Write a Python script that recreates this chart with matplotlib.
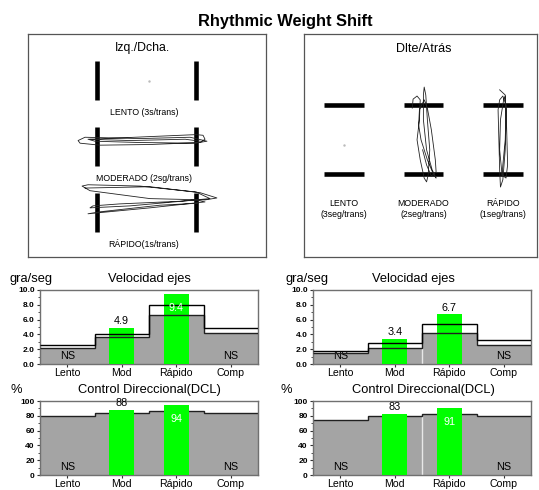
import numpy as np
import matplotlib
matplotlib.use("Agg")
import matplotlib.pyplot as plt

plt.rcParams['font.family'] = ['Liberation Sans', 'DejaVu Sans']

W, H = 539, 490

# ---------------------------
# data
# ---------------------------
categories = ["Lento", "Mod", "Rápido", "Comp"]

vel_left_norm = [2.2, 3.7, 6.6, 4.2]
vel_left_upper = [2.6, 4.0, 8.0, 4.9]
vel_left_patient = [None, 4.9, 9.4, None]

vel_right_norm = [1.5, 2.1, 4.2, 2.6]
vel_right_upper = [1.8, 2.8, 5.4, 3.3]
vel_right_patient = [None, 3.4, 6.7, None]

dcl_left_norm = [80, 84, 86, 84]
dcl_left_patient = [None, 88, 94, None]

dcl_right_norm = [75, 80, 83, 80]
dcl_right_patient = [None, 83, 91, None]

# left/right traces (x: sway between targets at -1/+1, y: offset from row)
lr_rows = ["LENTO (3s/trans)", "MODERADO (2sg/trans)", "RÁPIDO(1s/trans)"]
lr_mod_x = [-1.14, 0.07, 1.0, 1.14, 1.18, 1.08, 0.07, -0.94, -1.34, -1.38, -1.24,
            -0.13, 0.88, 1.22, 0.98, -0.13, -1.04, -1.18, -0.33, 0.78, 1.08]
lr_mod_y = [-0.11, -0.15, -0.18, -0.17, -0.11, -0.06, -0.03, -0.02, -0.05, -0.09, -0.14,
            -0.12, -0.14, -0.08, -0.05, -0.06, -0.08, -0.11, -0.09, -0.11, -0.08]
lr_fast_x = [-1.24, 0.07, 1.08, 1.42, 1.18, 0.07, -1.14, -1.30, -1.18, -0.13, 1.0, 1.28,
             0.68, -0.54, -1.08, -1.14, -0.33, 1.0, 1.18, 0.07, -1.18, -0.94, 0.27, 1.04]
lr_fast_y = [-0.37, -0.39, -0.30, -0.22, -0.19, -0.21, -0.33, -0.40, -0.42, -0.40, -0.31, -0.21,
             -0.17, -0.13, -0.10, -0.07, -0.10, -0.19, -0.16, -0.07, 0.02, -0.01, -0.11, -0.14]

# forward/back traces (x: offset from column, y: between targets at +1/-1)
fb_cols = ["LENTO", "MODERADO", "RÁPIDO"]
fb_speeds = ["(3seg/trans)", "(2seg/trans)", "(1seg/trans)"]
fb_mod_x = [-0.14, -0.13, -0.08, -0.04, -0.05, -0.08, -0.04, 0.01, 0.04, 0.06, 0.08, 0.05,
            0.03, 0.01, 0.0, 0.0, 0.04, 0.11, 0.16, 0.13, 0.05, -0.03, -0.06, -0.05,
            0.01, 0.05, 0.10, 0.15, 0.16, 0.10, 0.04, -0.01]
fb_mod_y = [0.91, 1.17, 1.26, 1.15, 0.57, -0.01, -0.59, -1.12, -1.23, -1.03, -0.30, 0.57,
            1.29, 1.52, 1.29, 0.57, -0.30, -0.88, -1.12, -1.03, -0.59, -0.01, 0.42, 0.86,
            1.15, 0.91, 0.28, -0.59, -0.94, -1.06, -0.74, -0.30]
fb_fast_x = [-0.04, 0.03, 0.04, 0.03, 0.0, -0.03, -0.04, -0.05, -0.06, -0.04, 0.0, 0.04,
             0.05, 0.06, 0.04, -0.01, -0.04, -0.03, 0.01, 0.03, 0.04, 0.03, 0.0, -0.01]
fb_fast_y = [1.44, 1.29, 0.57, -0.30, -1.17, -1.38, -0.88, -0.01, 0.86, 1.15, 1.26, 1.0,
             0.13, -0.74, -1.12, -1.03, -0.30, 0.57, 1.15, 1.26, 0.86, -0.01, -0.74, -1.06]

GREEN = "#00ff00"
GRAY = "#a4a4a4"
FRAME = "#707070"


def rect(x0, y0, x1, y1):
    return [x0 / W, 1 - y1 / H, (x1 - x0) / W, (y1 - y0) / H]


fig = plt.figure(figsize=(W / 100, H / 100), dpi=100)

fig.text(285 / W, 1 - 26 / H, "Rhythmic Weight Shift", ha="center", va="baseline",
         fontsize=11.8, fontweight="bold")

# ---------------------------
# top-left box: Izq./Dcha.
# ---------------------------
ax = fig.add_axes(rect(28, 34, 266, 257))
ax.set_xlim(-2.39, 2.41)
ax.set_ylim(2.675, -0.705)
ax.set_xticks([])
ax.set_yticks([])
for s in ax.spines.values():
    s.set_color("#555555")
    s.set_linewidth(0.9)
ax.text(-0.08, -0.5, "Izq./Dcha.", ha="center", va="center", fontsize=8.8)
for r, lab in enumerate(lr_rows):
    ax.vlines([-1, 1], r - 0.3, r + 0.3, color="black", lw=3.3)
    ax.text(-0.05, r + 0.48, lab, ha="center", va="center", fontsize=6.3)
ax.plot(lr_mod_x, np.array(lr_mod_y) + 1, color="#222222", lw=0.6)
ax.plot(lr_fast_x, np.array(lr_fast_y) + 2, color="#222222", lw=0.6)
ax.plot([0.05], [0.0], marker=".", ms=1.5, color="#bbbbbb")

# ---------------------------
# top-right box: Dlte/Atrás
# ---------------------------
ax = fig.add_axes(rect(304, 34, 537, 257))
ax.set_xlim(-0.503, 2.43)
ax.set_ylim(-3.41, 3.06)
ax.set_xticks([])
ax.set_yticks([])
for s in ax.spines.values():
    s.set_color("#555555")
    s.set_linewidth(0.9)
ax.text(1, 2.63, "Dlte/Atrás", ha="center", va="center", fontsize=9)
for c in range(3):
    ax.hlines([1, -1], c - 0.25, c + 0.25, color="black", lw=3.3)
    ax.text(c, -1.85, fb_cols[c], ha="center", va="center", fontsize=6.3)
    ax.text(c, -2.18, fb_speeds[c], ha="center", va="center", fontsize=6.3)
ax.plot(np.array(fb_mod_x) + 1, fb_mod_y, color="#222222", lw=0.6)
ax.plot(np.array(fb_fast_x) + 2, fb_fast_y, color="#222222", lw=0.6)
ax.plot([0.0], [-0.16], marker=".", ms=1.5, color="#bbbbbb")


# ---------------------------
# bottom bar panels
# ---------------------------
def bar_panel(box, norm, upper, patient, ymax, step, fmt, line_top, gap):
    ax = fig.add_axes(rect(*box))
    edges = np.arange(len(categories) + 1)
    ax.stairs(norm, edges, fill=True, color=GRAY, lw=0, zorder=1)
    if gap:
        ax.vlines(2, 0, min(norm[1], norm[2]), color="#e8e8e8", lw=1.0, zorder=1.5)
    zl = 4 if line_top else 2
    ax.stairs(norm, edges, baseline=None, color="#202020", lw=1.0, zorder=zl)
    if upper is not None:
        ax.stairs(upper, edges, baseline=None, color="black", lw=1.0, zorder=zl)
    for i, v in enumerate(patient):
        x = i + 0.5
        if v is None:
            ax.text(x, 0.11 * ymax, "NS", ha="center", va="center", fontsize=7.8)
            continue
        ax.bar(x, v, width=0.46, color=GREEN, zorder=3)
        if v > 0.88 * ymax:
            ax.annotate(fmt.format(v), (x, v), xytext=(0, -6.5), textcoords="offset points",
                        ha="center", va="top", color="white", fontsize=7.8, zorder=5)
        else:
            ax.annotate(fmt.format(v), (x, v), xytext=(0, 1.2), textcoords="offset points",
                        ha="center", va="bottom", color="black", fontsize=7.8, zorder=5)
    ax.set_xlim(0, 4)
    ax.set_ylim(0, ymax)
    ax.set_xticks(edges[:-1] + 0.5)
    ax.set_xticklabels(categories, fontsize=7.6)
    ax.set_yticks(np.arange(0, ymax + step / 2, step))
    ax.set_yticklabels([fmt.format(t) for t in np.arange(0, ymax + step / 2, step)],
                       fontsize=6, fontweight="bold")
    ax.set_yticks(np.arange(step / 2, ymax, step), minor=True)
    ax.tick_params(axis="x", length=2.5, pad=0.5, color="#333333")
    ax.tick_params(axis="y", which="major", length=2.5, pad=1.2, color="#333333")
    ax.tick_params(axis="y", which="minor", length=1.5, color="#333333")
    for s in ax.spines.values():
        s.set_color(FRAME)
        s.set_linewidth(1.0)
    return ax


bar_panel((40, 290, 258, 364), vel_left_norm, vel_left_upper, vel_left_patient,
          10, 2, "{:.1f}", True, False)
bar_panel((313, 290, 531, 364), vel_right_norm, vel_right_upper, vel_right_patient,
          10, 2, "{:.1f}", True, True)
bar_panel((40, 401, 258, 475), dcl_left_norm, None, dcl_left_patient,
          100, 20, "{:.0f}", False, False)
bar_panel((313, 401, 531, 475), dcl_right_norm, None, dcl_right_patient,
          100, 20, "{:.0f}", False, True)

# panel captions
for x_unit, x_title, title, unit, yb in [
        (9, 149, "Velocidad ejes", "gra/seg", 282),
        (286, 413, "Velocidad ejes", "gra/seg", 282),
        (10.5, 149, "Control Direccional(DCL)", "%", 393),
        (280.5, 423, "Control Direccional(DCL)", "%", 393)]:
    fig.text(x_unit / W, 1 - yb / H, unit, ha="left", va="baseline", fontsize=9.3)
    fig.text(x_title / W, 1 - yb / H, title, ha="center", va="baseline", fontsize=9.3)

fig.savefig("out.png", dpi=100)
